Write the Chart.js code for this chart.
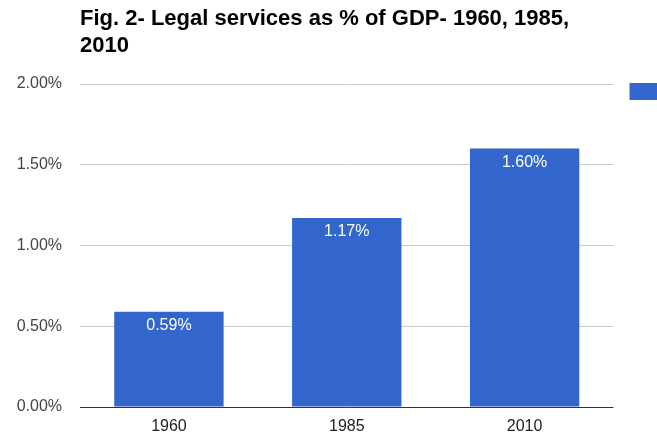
<!DOCTYPE html>
<html>
<head>
<meta charset="utf-8">
<script src="https://cdn.jsdelivr.net/npm/chart.js@4"></script>
<style>
    body { margin: 0; background: #fff; }
    #wrap { width: 657px; height: 436px; overflow: hidden; position: relative; }
    #chart { position: absolute; left: 0; top: 0; }
</style>
</head>
<body>
<div id="wrap"><canvas id="chart" width="820" height="436"></canvas></div>
<script>
// --- Data ---
const titleLines = ['Fig. 2- Legal services as % of GDP- 1960, 1985,', '2010'];
const years = ['1960', '1985', '2010'];
const shares = [0.59, 1.17, 1.60];
const seriesName = 'Legal services as % of GDP';
const yMax = 2;
const yStep = 0.5;

const FONT = "'Liberation Sans', Arial, sans-serif";
const PLOT_RIGHT = 614;

// white value labels just inside the top of each bar
const barLabels = {
    id: 'barLabels',
    afterDatasetsDraw(chart) {
        const ctx = chart.ctx;
        const meta = chart.getDatasetMeta(0);
        ctx.save();
        ctx.fillStyle = '#ffffff';
        ctx.font = '16px ' + FONT;
        ctx.textAlign = 'center';
        ctx.textBaseline = 'middle';
        meta.data.forEach((bar, i) => {
            ctx.fillText(shares[i].toFixed(2) + '%', bar.x, bar.y + 14);
        });
        ctx.restore();
    }
};

const chart = new Chart(document.getElementById('chart'), {
    type: 'bar',
    data: {
        labels: years,
        datasets: [{
            label: seriesName,
            data: shares,
            backgroundColor: '#3366cc',
            barPercentage: 0.615,
            categoryPercentage: 1
        }]
    },
    options: {
        responsive: false,
        animation: false,
        devicePixelRatio: 1,
        layout: { padding: { top: 5, right: 40, bottom: 0, left: 0 } },
        scales: {
            x: {
                grid: { display: false, drawTicks: false },
                border: { display: false },
                ticks: { color: '#222', font: { family: FONT, size: 16 }, padding: 10 },
                afterFit: s => { s.height = 29; }
            },
            y: {
                min: 0,
                max: yMax,
                border: { display: false },
                grid: {
                    drawTicks: false,
                    color: c => (c.tick && c.tick.value === 0) ? '#333333' : '#cccccc'
                },
                ticks: {
                    stepSize: yStep,
                    padding: 18,
                    color: '#444',
                    font: { family: FONT, size: 16 },
                    callback: v => Number(v).toFixed(2) + '%'
                },
                afterFit: s => { s.width = 80; }
            }
        },
        plugins: {
            title: {
                display: true,
                text: titleLines,
                align: 'start',
                fullSize: false,
                color: '#000',
                font: { family: FONT, size: 22, weight: 'bold', lineHeight: 1.25 },
                padding: { top: 0, bottom: 24 }
            },
            legend: {
                position: 'right',
                align: 'start',
                fullSize: true,
                title: { display: true, text: '', padding: { top: 47.6, bottom: 0 } },
                labels: {
                    boxWidth: 34,
                    boxHeight: 17,
                    padding: 16,
                    color: '#222',
                    font: { family: FONT, size: 12 }
                }
            },
            tooltip: { enabled: false }
        }
    },
    plugins: [barLabels]
});

// keep the plot's right edge where the reference has it
for (let i = 0; i < 5; i++) {
    const dx = chart.chartArea.right - PLOT_RIGHT;
    if (Math.abs(dx) < 0.5) break;
    chart.options.layout.padding.right += dx;
    chart.update('none');
}
</script>
</body>
</html>
